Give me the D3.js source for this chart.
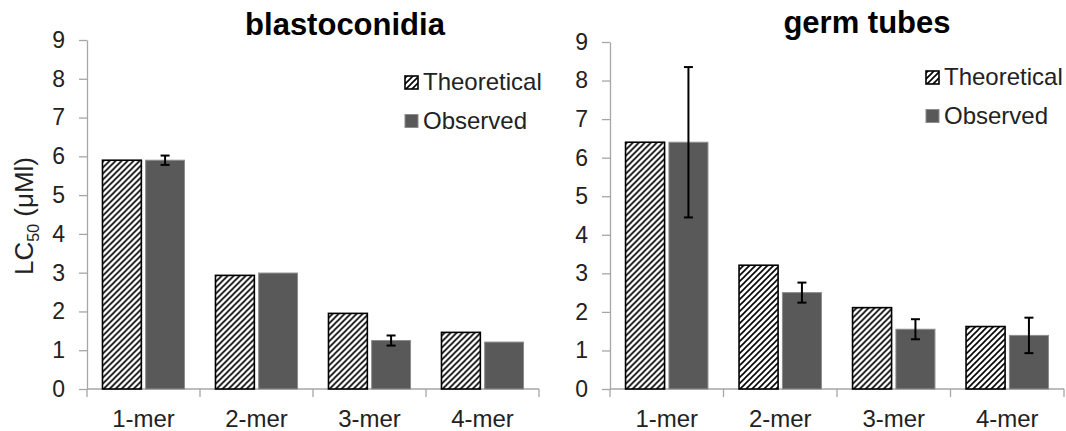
<!DOCTYPE html>
<html>
<head>
<meta charset="utf-8">
<script src="https://cdn.jsdelivr.net/npm/d3@7"></script>
<style>
  body { margin: 0; background: #fff; }
  text { font-family: "Liberation Sans", Arial, sans-serif; }
</style>
</head>
<body>
<div id="container"></div>
<script>
/* DATA */
const categories = ["1-mer", "2-mer", "3-mer", "4-mer"];
const seriesNames = ["Theoretical", "Observed"];
const yTicks = [0, 1, 2, 3, 4, 5, 6, 7, 8, 9];

const blastoTheoretical = [5.9, 2.93, 1.95, 1.46];
const blastoObserved = [5.9, 2.99, 1.25, 1.21];
const blastoObservedErr = [0.12, 0, 0.13, 0];

const germTheoretical = [6.4, 3.21, 2.11, 1.62];
const germObserved = [6.4, 2.5, 1.55, 1.39];
const germObservedErr = [1.95, 0.26, 0.26, 0.46];

/* SVG */
const width = 1066, height = 431;
const svg = d3.select("#container")
  .append("svg")
  .attr("width", width)
  .attr("height", height);

// hatch for the theoretical bars
const defs = svg.append("defs");
const pat = defs.append("pattern")
  .attr("id", "hatch")
  .attr("patternUnits", "userSpaceOnUse")
  .attr("width", 6)
  .attr("height", 6);
pat.append("rect").attr("width", 6).attr("height", 6).attr("fill", "#fff");
pat.append("path")
  .attr("d", "M-1,7 L7,-1 M-4,4 L4,-4 M2,10 L10,2")
  .attr("stroke", "#000")
  .attr("stroke-width", 1.6);

function drawPanel(p) {
  const rows = categories.map((c, i) => ({
    cat: c,
    Theoretical: p.theo[i],
    Observed: p.obs[i],
    err: p.err[i]
  }));

  const x0 = d3.scaleBand()
    .domain(categories)
    .range([p.left, p.right])
    .paddingInner(0.274)
    .paddingOuter(0.137);

  const x1 = d3.scaleBand()
    .domain(seriesNames)
    .range([0, x0.bandwidth()])
    .paddingInner(0.1);

  const y = d3.scaleLinear()
    .domain([0, 9])
    .range([p.bottom, p.top]);

  const g = svg.append("g");

  // y axis
  const yAxis = d3.axisLeft(y)
    .tickValues(yTicks)
    .tickSize(8)
    .tickPadding(14)
    .tickSizeOuter(0);
  const ya = g.append("g")
    .attr("transform", `translate(${p.left},0)`)
    .call(yAxis);
  ya.selectAll("path, line").attr("stroke", "#a6a6a6").attr("stroke-width", 1.3);
  ya.selectAll("text")
    .style("font-size", "23px")
    .attr("fill", "#222");

  // x axis line with ticks between categories
  const half = (x0.step() - x0.bandwidth()) / 2;
  const bounds = categories.map(c => x0(c) - half).concat([x0(categories[3]) + x0.bandwidth() + half]);
  g.append("line")
    .attr("x1", p.left).attr("x2", bounds[4])
    .attr("y1", y(0)).attr("y2", y(0))
    .attr("stroke", "#a6a6a6").attr("stroke-width", 1.3);
  g.selectAll(".xtick")
    .data(bounds)
    .join("line")
    .attr("x1", d => d).attr("x2", d => d)
    .attr("y1", y(0)).attr("y2", y(0) + 8)
    .attr("stroke", "#a6a6a6").attr("stroke-width", 1.3);

  g.selectAll(".xlabel")
    .data(categories)
    .join("text")
    .attr("x", d => x0(d) + x0.bandwidth() / 2)
    .attr("y", 427)
    .attr("text-anchor", "middle")
    .style("font-size", "24px")
    .attr("fill", "#222")
    .text(d => d);

  // bars
  const grp = g.selectAll(".grp")
    .data(rows)
    .join("g")
    .attr("transform", d => `translate(${x0(d.cat)},0)`);

  grp.append("rect")
    .attr("x", x1("Theoretical"))
    .attr("width", x1.bandwidth())
    .attr("y", d => y(d.Theoretical))
    .attr("height", d => y(0) - y(d.Theoretical))
    .attr("fill", "url(#hatch)")
    .attr("stroke", "#000")
    .attr("stroke-width", 1.6);

  grp.append("rect")
    .attr("x", x1("Observed"))
    .attr("width", x1.bandwidth())
    .attr("y", d => y(d.Observed))
    .attr("height", d => y(0) - y(d.Observed))
    .attr("fill", "#595959")
    .attr("stroke", "#8c8c8c")
    .attr("stroke-width", 1);

  // error bars on observed
  const eb = grp.filter(d => d.err > 0).append("g")
    .attr("stroke", "#000")
    .attr("stroke-width", 2);
  const cx = x1("Observed") + x1.bandwidth() / 2;
  eb.append("line")
    .attr("x1", cx).attr("x2", cx)
    .attr("y1", d => y(d.Observed + d.err))
    .attr("y2", d => y(d.Observed - d.err));
  eb.append("line")
    .attr("x1", cx - 4.5).attr("x2", cx + 4.5)
    .attr("y1", d => y(d.Observed + d.err))
    .attr("y2", d => y(d.Observed + d.err));
  eb.append("line")
    .attr("x1", cx - 4.5).attr("x2", cx + 4.5)
    .attr("y1", d => y(d.Observed - d.err))
    .attr("y2", d => y(d.Observed - d.err));

  // title
  g.append("text")
    .attr("x", p.titleX)
    .attr("y", p.titleY)
    .attr("text-anchor", "middle")
    .style("font-size", "31px")
    .style("font-weight", "bold")
    .attr("fill", "#000")
    .text(p.title);

  // legend
  const lg = g.selectAll(".leg")
    .data(seriesNames)
    .join("g")
    .attr("transform", (d, i) => `translate(${p.legX},${p.legY + i * 38.5})`);
  lg.append("rect")
    .attr("x", 0).attr("y", -14)
    .attr("width", 13).attr("height", 13)
    .attr("fill", d => d === "Theoretical" ? "url(#hatch)" : "#595959")
    .attr("stroke", d => d === "Theoretical" ? "#000" : "#8c8c8c")
    .attr("stroke-width", d => d === "Theoretical" ? 1.6 : 1);
  lg.append("text")
    .attr("x", 18)
    .attr("y", 0)
    .style("font-size", "24px")
    .attr("fill", "#222")
    .text(d => d);
}

drawPanel({
  title: "blastoconidia", titleX: 345, titleY: 35,
  left: 87, right: 539, top: 40, bottom: 389,
  legX: 405, legY: 90,
  theo: blastoTheoretical, obs: blastoObserved, err: blastoObservedErr
});

drawPanel({
  title: "germ tubes", titleX: 867, titleY: 33,
  left: 610, right: 1064, top: 42, bottom: 389,
  legX: 926, legY: 85,
  theo: germTheoretical, obs: germObserved, err: germObservedErr
});

// y axis label (left panel only)
const yl = svg.append("text")
  .attr("transform", "translate(33,216) rotate(-90)")
  .attr("text-anchor", "middle")
  .style("font-size", "26px")
  .attr("fill", "#222");
yl.append("tspan").text("LC");
yl.append("tspan").attr("dy", 6).style("font-size", "16px").text("50");
yl.append("tspan").attr("dy", -6).text(" (μMl)");
</script>
</body>
</html>
